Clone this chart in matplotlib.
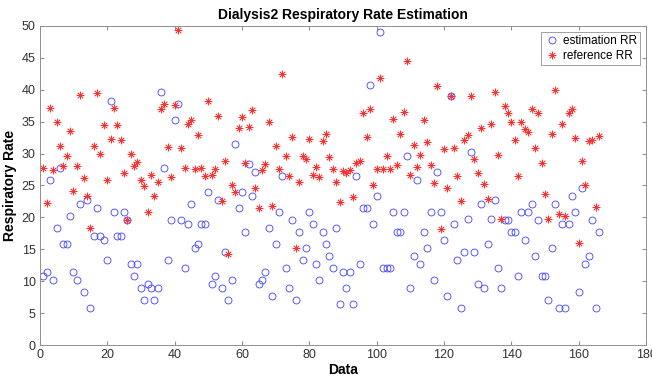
import numpy as np
import matplotlib.pyplot as plt

plt.rcParams['font.family'] = ['Liberation Sans', 'DejaVu Sans']

# estimated respiratory rate (blue circles), samples 1..166
estimation_rr = [
    10.8, 11.5, 25.8, 10.2, 18.3, 27.7, 15.8, 15.8, 20.2, 11.5,
    10.2, 22.1, 8.3, 22.7, 5.8, 17.1, 21.5, 17.1, 16.5, 13.3,
    38.3, 20.8, 17.1, 17.1, 20.8, 19.6, 12.7, 10.8, 12.7, 9.0,
    7.1, 9.6, 9.0, 7.1, 9.0, 39.6, 27.7, 13.3, 19.6, 35.2,
    37.7, 19.6, 12.1, 19.0, 22.1, 15.2, 15.8, 19.0, 19.0, 24.0,
    9.6, 10.8, 22.7, 9.0, 14.6, 7.1, 10.2, 31.5, 21.5, 24.0,
    17.7, 28.3, 23.3, 27.1, 9.6, 10.2, 11.5, 18.3, 7.7, 15.8,
    20.8, 26.5, 12.1, 9.0, 19.6, 7.1, 17.7, 13.3, 15.2, 20.8,
    19.0, 12.7, 10.2, 17.7, 15.8, 14.0, 12.1, 18.3, 6.5, 11.5,
    9.0, 11.5, 6.5, 26.5, 12.7, 21.5, 21.5, 40.8, 19.0, 23.3,
    49.0, 12.1, 12.1, 12.1, 20.8, 17.7, 17.7, 20.8, 29.6, 9.0,
    14.0, 25.8, 12.7, 17.7, 15.2, 20.8, 10.2, 27.1, 20.8, 16.5,
    7.7, 39.0, 19.0, 13.3, 5.8, 14.6, 19.8, 30.2, 14.6, 9.6,
    22.1, 9.0, 15.8, 19.8, 22.7, 12.1, 9.0, 19.6, 19.6, 17.7,
    17.7, 10.8, 20.8, 16.5, 20.8, 22.1, 14.0, 19.6, 10.8, 10.8,
    7.1, 15.2, 22.1, 5.8, 19.0, 5.8, 19.0, 23.3, 20.8, 8.3,
    24.6, 12.7, 14.0, 19.6, 5.8, 17.7,
]

# reference respiratory rate (red stars)
reference_rr = [
    27.7, 22.2, 37.1, 27.4, 35.0, 31.1, 28.1, 29.6, 33.6, 24.1,
    28.1, 39.1, 26.1, 23.4, 18.4, 31.1, 39.5, 29.9, 34.4, 25.8,
    32.3, 37.1, 34.4, 32.1, 26.9, 19.6, 30.0, 28.1, 28.6, 25.9,
    24.9, 20.8, 26.7, 23.3, 25.5, 37.0, 37.7, 31.0, 26.3, 37.6,
    49.3, 30.8, 27.7, 34.6, 35.2, 27.6, 32.9, 27.7, 26.5, 38.3,
    26.6, 27.5, 35.9, 22.5, 28.8, 14.2, 25.0, 24.0, 34.0, 35.7,
    28.5, 34.1, 36.8, 24.6, 21.5, 27.4, 28.4, 34.9, 21.8, 31.1,
    27.6, 42.4, 29.6, 26.5, 32.6, 15.2, 25.6, 29.6, 29.1, 32.2,
    26.7, 27.9, 26.4, 31.9, 33.1, 29.4, 27.5, 25.6, 22.4, 27.3,
    26.9, 27.4, 23.2, 28.5, 28.9, 36.4, 32.6, 36.9, 25.0, 27.6,
    41.9, 27.6, 29.6, 27.6, 35.4, 28.2, 33.1, 36.5, 44.5, 26.7,
    31.3, 27.9, 29.7, 35.3, 31.8, 28.2, 25.4, 40.6, 18.1, 30.7,
    24.6, 39.0, 30.8, 26.5, 22.5, 32.1, 32.9, 39.0, 29.2, 27.0,
    34.0, 25.3, 22.9, 34.6, 39.6, 29.8, 19.8, 37.5, 36.4, 34.9,
    32.1, 26.5, 35.0, 33.9, 33.3, 37.0, 30.9, 36.3, 28.5, 23.6,
    19.8, 33.1, 39.9, 20.5, 34.6, 20.2, 36.3, 37.0, 32.4, 16.0,
    28.8, 25.1, 31.9, 32.1, 21.7, 32.7,
]

samples = np.arange(1, len(estimation_rr) + 1)

fig = plt.figure(figsize=(6.52, 3.8), dpi=100)
ax = fig.add_axes([0.061, 0.092, 0.930, 0.840])

ax.plot(samples, estimation_rr, linestyle='none', marker='o', markersize=5,
        markerfacecolor='none', markeredgecolor='#4040ff', markeredgewidth=0.6,
        label='estimation RR')
ax.plot(samples, reference_rr, linestyle='none', marker=(8, 2, 0), markersize=5.5,
        markeredgecolor='#ff3030', markeredgewidth=0.5, label='reference RR')

ax.set_xlim(0, 180)
ax.set_ylim(0, 50)
ax.set_xticks(np.arange(0, 181, 20))
ax.set_yticks(np.arange(0, 51, 5))
ax.tick_params(direction='in', length=3, labelsize=9, color='#909090',
               labelcolor='#333333', top=True, right=True, pad=3)
for s in ax.spines.values():
    s.set_color('#909090')
    s.set_linewidth(0.7)

ax.set_title('Dialysis2 Respiratory Rate Estimation', fontsize=10, fontweight='bold', pad=5)
ax.set_xlabel('Data', fontsize=10, fontweight='bold', labelpad=1)
ax.set_ylabel('Respiratory Rate', fontsize=10, fontweight='bold', labelpad=3)

leg = ax.legend(loc='upper right', fontsize=8.5, fancybox=False, framealpha=1,
                edgecolor='#909090', borderpad=0.3, handletextpad=0.3,
                labelspacing=0.2, handlelength=1.2, borderaxespad=0.5)
leg.get_frame().set_linewidth(0.6)

fig.savefig('out.png', dpi=100)
